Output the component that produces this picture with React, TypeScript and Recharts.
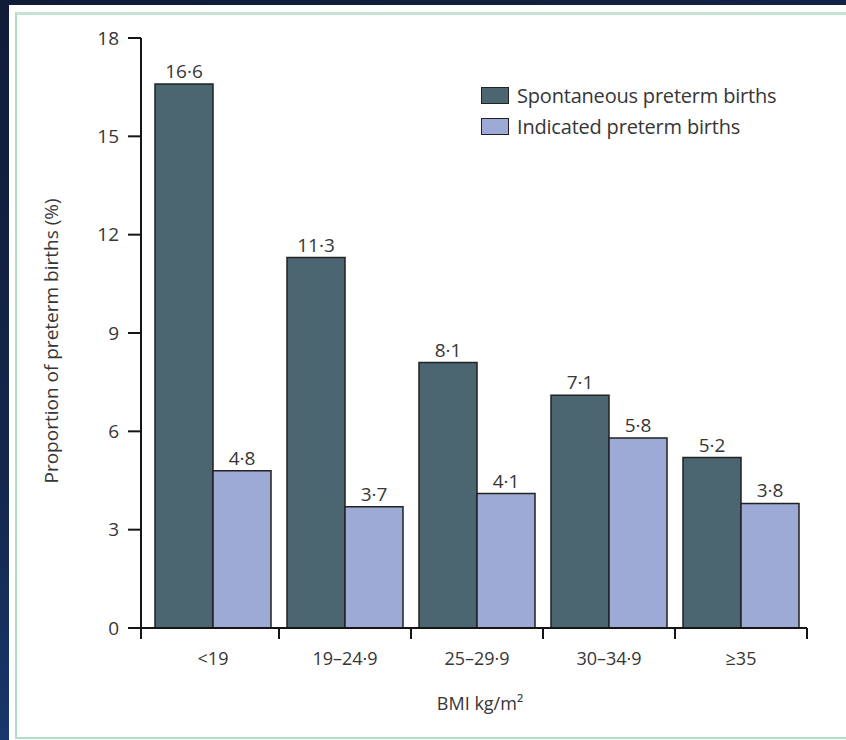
import React from "react";
import { BarChart, Bar, XAxis, YAxis, LabelList } from "recharts";

const categories = ["<19", "19–24·9", "25–29·9", "30–34·9", "≥35"];
const spontaneous = [16.6, 11.3, 8.1, 7.1, 5.2];
const indicated = [4.8, 3.7, 4.1, 5.8, 3.8];
const seriesNames = ["Spontaneous preterm births", "Indicated preterm births"];
const yTicks = [0, 3, 6, 9, 12, 15, 18];
const yLabel = "Proportion of preterm births (%)";
const xLabel = "BMI kg/m²";

const data = categories.map((c, i) => ({
  name: c,
  spontaneous: spontaneous[i],
  indicated: indicated[i],
}));

const FONT = "'Open Sans', 'DejaVu Sans', sans-serif";
const TEXT = "#363636";
const DARK = "#4b6670";
const LIGHT = "#9daad6";
const AXIS = "#151515";
const XPAD = 6;

const fmt = (v: any) => String(v).replace(".", "·");

const XTick = (props: any) => {
  const { x, y, payload, width, visibleTicksCount, index } = props;
  const half =
    payload && typeof payload.offset === "number" && payload.offset > 0
      ? payload.offset
      : (width - XPAD) / visibleTicksCount / 2;
  const last = index === visibleTicksCount - 1;
  const leftX = index === 0 ? x - half - XPAD : x - half;
  return (
    <g>
      <line x1={leftX} x2={leftX} y1={y} y2={y + 11} stroke={AXIS} strokeWidth={2} />
      {last && (
        <line x1={x + half} x2={x + half} y1={y} y2={y + 11} stroke={AXIS} strokeWidth={2} />
      )}
      <text
        x={x}
        y={y + 37}
        textAnchor="middle"
        fill={TEXT}
        fontSize={18}
        fontFamily={FONT}
      >
        {payload.value}
      </text>
    </g>
  );
};

const LegendBox = () => {
  const colors = [DARK, LIGHT];
  return (
    <div style={{ position: "absolute", left: 481, top: 80, fontFamily: FONT }}>
      {seriesNames.map((n, i) => (
        <div
          key={n}
          style={{ display: "flex", alignItems: "center", height: 31 }}
        >
          <div
            style={{
              width: 26,
              height: 15,
              background: colors[i],
              border: "1.5px solid #222",
              marginRight: 8,
            }}
          />
          <span style={{ fontSize: 20, color: TEXT, letterSpacing: -0.2, whiteSpace: "nowrap" }}>{n}</span>
        </div>
      ))}
    </div>
  );
};

export default function App() {
  return (
    <div
      style={{
        position: "absolute",
        left: 0,
        top: 0,
        width: 846,
        height: 740,
        overflow: "hidden",
        background:
          "linear-gradient(160deg, #101c38 0%, #14264c 45%, #1c4a8e 100%)",
      }}
    >
      <div
        style={{
          position: "absolute",
          left: 9,
          top: 5,
          width: 837,
          height: 735,
          background: "#ffffff",
        }}
      />
      <div
        style={{
          position: "absolute",
          left: 15,
          top: 12,
          width: 840,
          height: 722,
          borderLeft: "2px solid #b3dcc6",
          borderTop: "3px solid #c3e2d2",
          borderBottom: "2px solid #b3dcc6",
        }}
      />
      <div style={{ position: "absolute", left: 0, top: 0 }}>
        <BarChart
          width={846}
          height={740}
          data={data}
          margin={{ top: 38, right: 39, bottom: 0, left: 0 }}
          barCategoryGap={8}
          barGap={0}
        >
          <XAxis
            dataKey="name"
            height={112}
            tickSize={0}
            tickMargin={0}
            tickLine={false}
            padding={{ left: XPAD, right: 0 }}
            axisLine={{ stroke: AXIS, strokeWidth: 2 }}
            tick={<XTick />}
            interval={0}
            label={(p: any) => {
              const vb = p.viewBox || {};
              return (
                <text
                  x={vb.x + vb.width / 2 + 6}
                  y={vb.y + 82}
                  textAnchor="middle"
                  fill={TEXT}
                  fontSize={18}
                  fontFamily={FONT}
                >
                  {xLabel}
                </text>
              );
            }}
          />
          <YAxis
            width={141}
            domain={[0, 18]}
            ticks={yTicks}
            interval={0}
            tickSize={13}
            tickMargin={9}
            axisLine={{ stroke: AXIS, strokeWidth: 2 }}
            tickLine={{ stroke: AXIS, strokeWidth: 2 }}
            tick={{ fill: TEXT, fontSize: 19, fontFamily: FONT }}
            label={(p: any) => {
              const vb = p.viewBox || {};
              const cx = 51;
              const cy = vb.y + vb.height / 2 + 8;
              return (
                <text
                  x={cx}
                  y={cy}
                  transform={`rotate(-90 ${cx} ${cy})`}
                  textAnchor="middle"
                  dominantBaseline="central"
                  fill={TEXT}
                  fontSize={19}
                  fontFamily={FONT}
                >
                  {yLabel}
                </text>
              );
            }}
          />
          <Bar
            dataKey="spontaneous"
            name={seriesNames[0]}
            fill={DARK}
            stroke="#222"
            strokeWidth={1.5}
            isAnimationActive={false}
          >
            <LabelList
              dataKey="spontaneous"
              position="top"
              offset={6}
              formatter={fmt}
              fill={TEXT}
              fontSize={19}
              fontFamily={FONT}
            />
          </Bar>
          <Bar
            dataKey="indicated"
            name={seriesNames[1]}
            fill={LIGHT}
            stroke="#222"
            strokeWidth={1.5}
            isAnimationActive={false}
          >
            <LabelList
              dataKey="indicated"
              position="top"
              offset={6}
              formatter={fmt}
              fill={TEXT}
              fontSize={19}
              fontFamily={FONT}
            />
          </Bar>
        </BarChart>
      </div>
      <LegendBox />
    </div>
  );
}
